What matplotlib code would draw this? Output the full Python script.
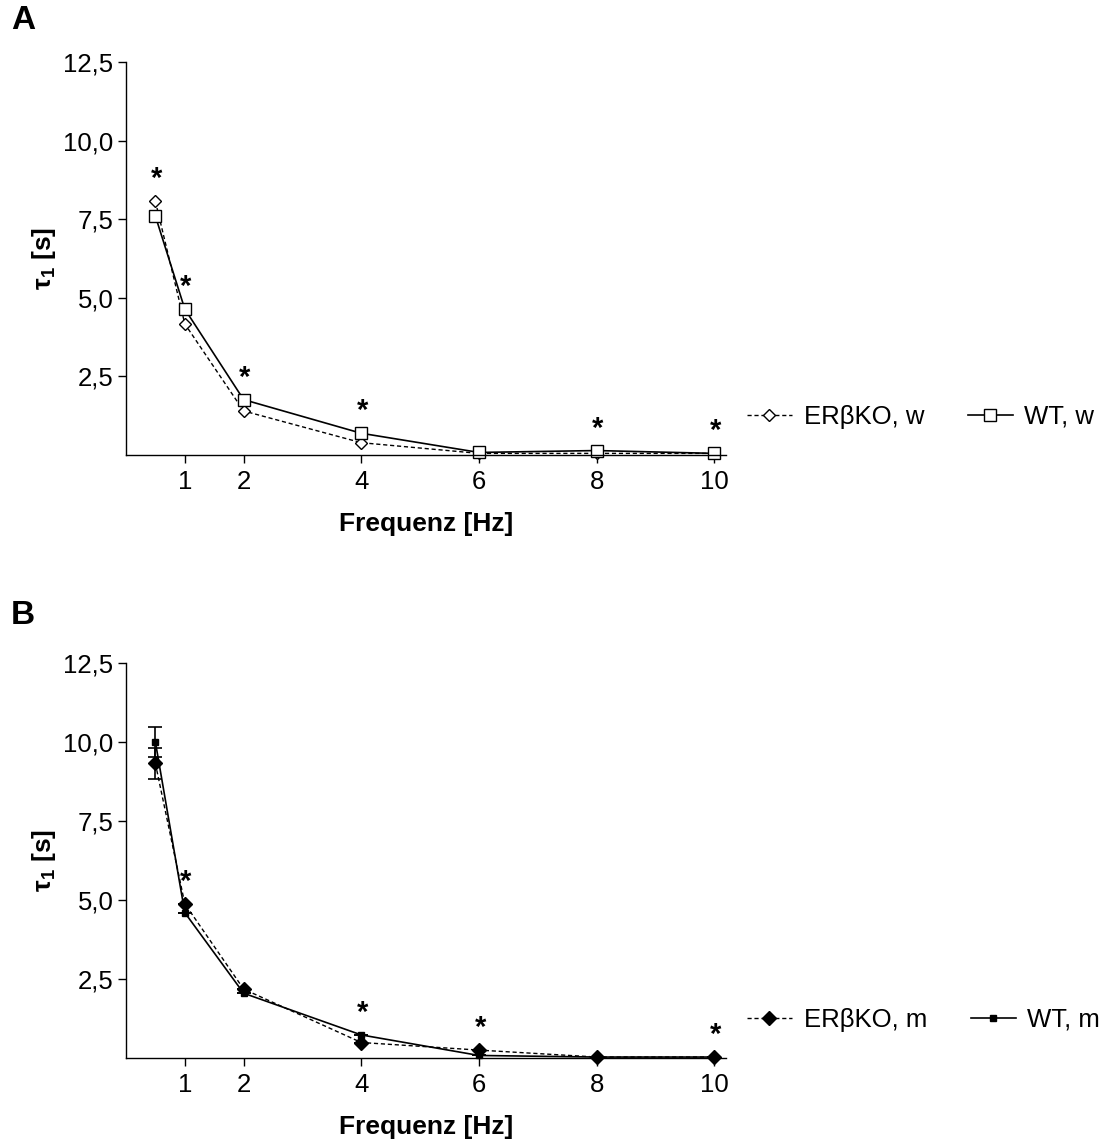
#!/usr/bin/env python3

import matplotlib
matplotlib.use("Agg")
import matplotlib.pyplot as plt
import numpy as np

plt.rcParams['font.family'] = ['Liberation Sans', 'DejaVu Sans']

freq = [0.5, 1, 2, 4, 6, 8, 10]

# panel A (weiblich)
ko_w = [8.07, 4.17, 1.40, 0.39, 0.05, 0.05, 0.05]
wt_w = [7.60, 4.64, 1.76, 0.69, 0.08, 0.14, 0.05]
sig_w = [0.5, 1, 2, 4, 8, 10]

# panel B (maennlich)
ko_m = [9.32, 4.88, 2.18, 0.49, 0.25, 0.03, 0.03]
wt_m = [10.0, 4.60, 2.05, 0.73, 0.08, 0.03, 0.03]
ko_m_err = [0.50, 0, 0, 0, 0, 0, 0]
wt_m_err = [0.47, 0, 0, 0, 0, 0, 0]
sig_m = [1, 4, 6, 10]

xticks = [1, 2, 4, 6, 8, 10]
yticks = [2.5, 5.0, 7.5, 10.0, 12.5]

fig = plt.figure(figsize=(11.05, 11.48), dpi=100)
axA = fig.add_axes([0.114, 0.6037, 0.543, 0.3423])
axB = fig.add_axes([0.114, 0.0784, 0.543, 0.3441])

dash = (0, (3, 2))


def style(ax):
    ax.set_xlim(0, 10.2)
    ax.set_ylim(0, 12.5)
    ax.spines['top'].set_visible(False)
    ax.spines['right'].set_visible(False)
    ax.spines['left'].set_linewidth(1.0)
    ax.spines['bottom'].set_linewidth(1.0)
    ax.set_xticks(xticks)
    ax.set_xticklabels([str(x) for x in xticks])
    ax.set_yticks(yticks)
    ax.set_yticklabels([("%.1f" % y).replace(".", ",") for y in yticks])
    ax.tick_params(direction='out', length=6, width=1, labelsize=18.5, pad=3)
    ax.tick_params(axis='x', pad=5)
    ax.set_xlabel("Frequenz [Hz]", fontsize=19, fontweight='bold', labelpad=13)
    ax.set_ylabel(r"$\mathregular{\tau_1}$ [s]", fontsize=19, fontweight='bold', labelpad=4)


def stars(ax, sig, a, b):
    for f in sig:
        i = freq.index(f)
        top = max(a[i], b[i])
        ax.text(f + 0.02, top + 0.7, "*", ha='center', va='center',
                fontsize=21, fontweight='bold')


def legend(ax):
    ax.legend(loc='center left', bbox_to_anchor=(1.035, 0.097), ncol=2, frameon=False,
              fontsize=18.5, handlelength=1.75, handletextpad=0.45, columnspacing=1.7,
              borderpad=0, borderaxespad=0)


# A
axA.plot(freq, ko_w, linestyle=dash, color='black', lw=1, marker='D',
         ms=6.5, mfc='white', mec='black', mew=1, clip_on=False, label="ERβKO, w")
axA.plot(freq, wt_w, linestyle='-', color='black', lw=1.2, marker='s',
         ms=9, mfc='white', mec='black', mew=1, clip_on=False, label="WT, w")
stars(axA, sig_w, ko_w, wt_w)
style(axA)
legend(axA)

# B
axB.errorbar(freq, ko_m, yerr=ko_m_err, fmt='none', ecolor='black', capsize=5,
             elinewidth=1.2, capthick=1.2, clip_on=False)
axB.errorbar(freq, wt_m, yerr=wt_m_err, fmt='none', ecolor='black', capsize=5,
             elinewidth=1.2, capthick=1.2, clip_on=False)
axB.plot(freq, ko_m, linestyle=dash, color='black', lw=1, marker='D',
         ms=7, mfc='black', mec='black', clip_on=False, label="ERβKO, m")
axB.plot(freq, wt_m, linestyle='-', color='black', lw=1.2, marker='s',
         ms=4.5, mfc='black', mec='black', clip_on=False, label="WT, m")
stars(axB, sig_m, ko_m, wt_m)
style(axB)
legend(axB)

fig.text(0.01, 0.982, "A", fontsize=24, fontweight='bold', va='center', ha='left')
fig.text(0.01, 0.464, "B", fontsize=24, fontweight='bold', va='center', ha='left')

fig.savefig("out.png", dpi=100)
